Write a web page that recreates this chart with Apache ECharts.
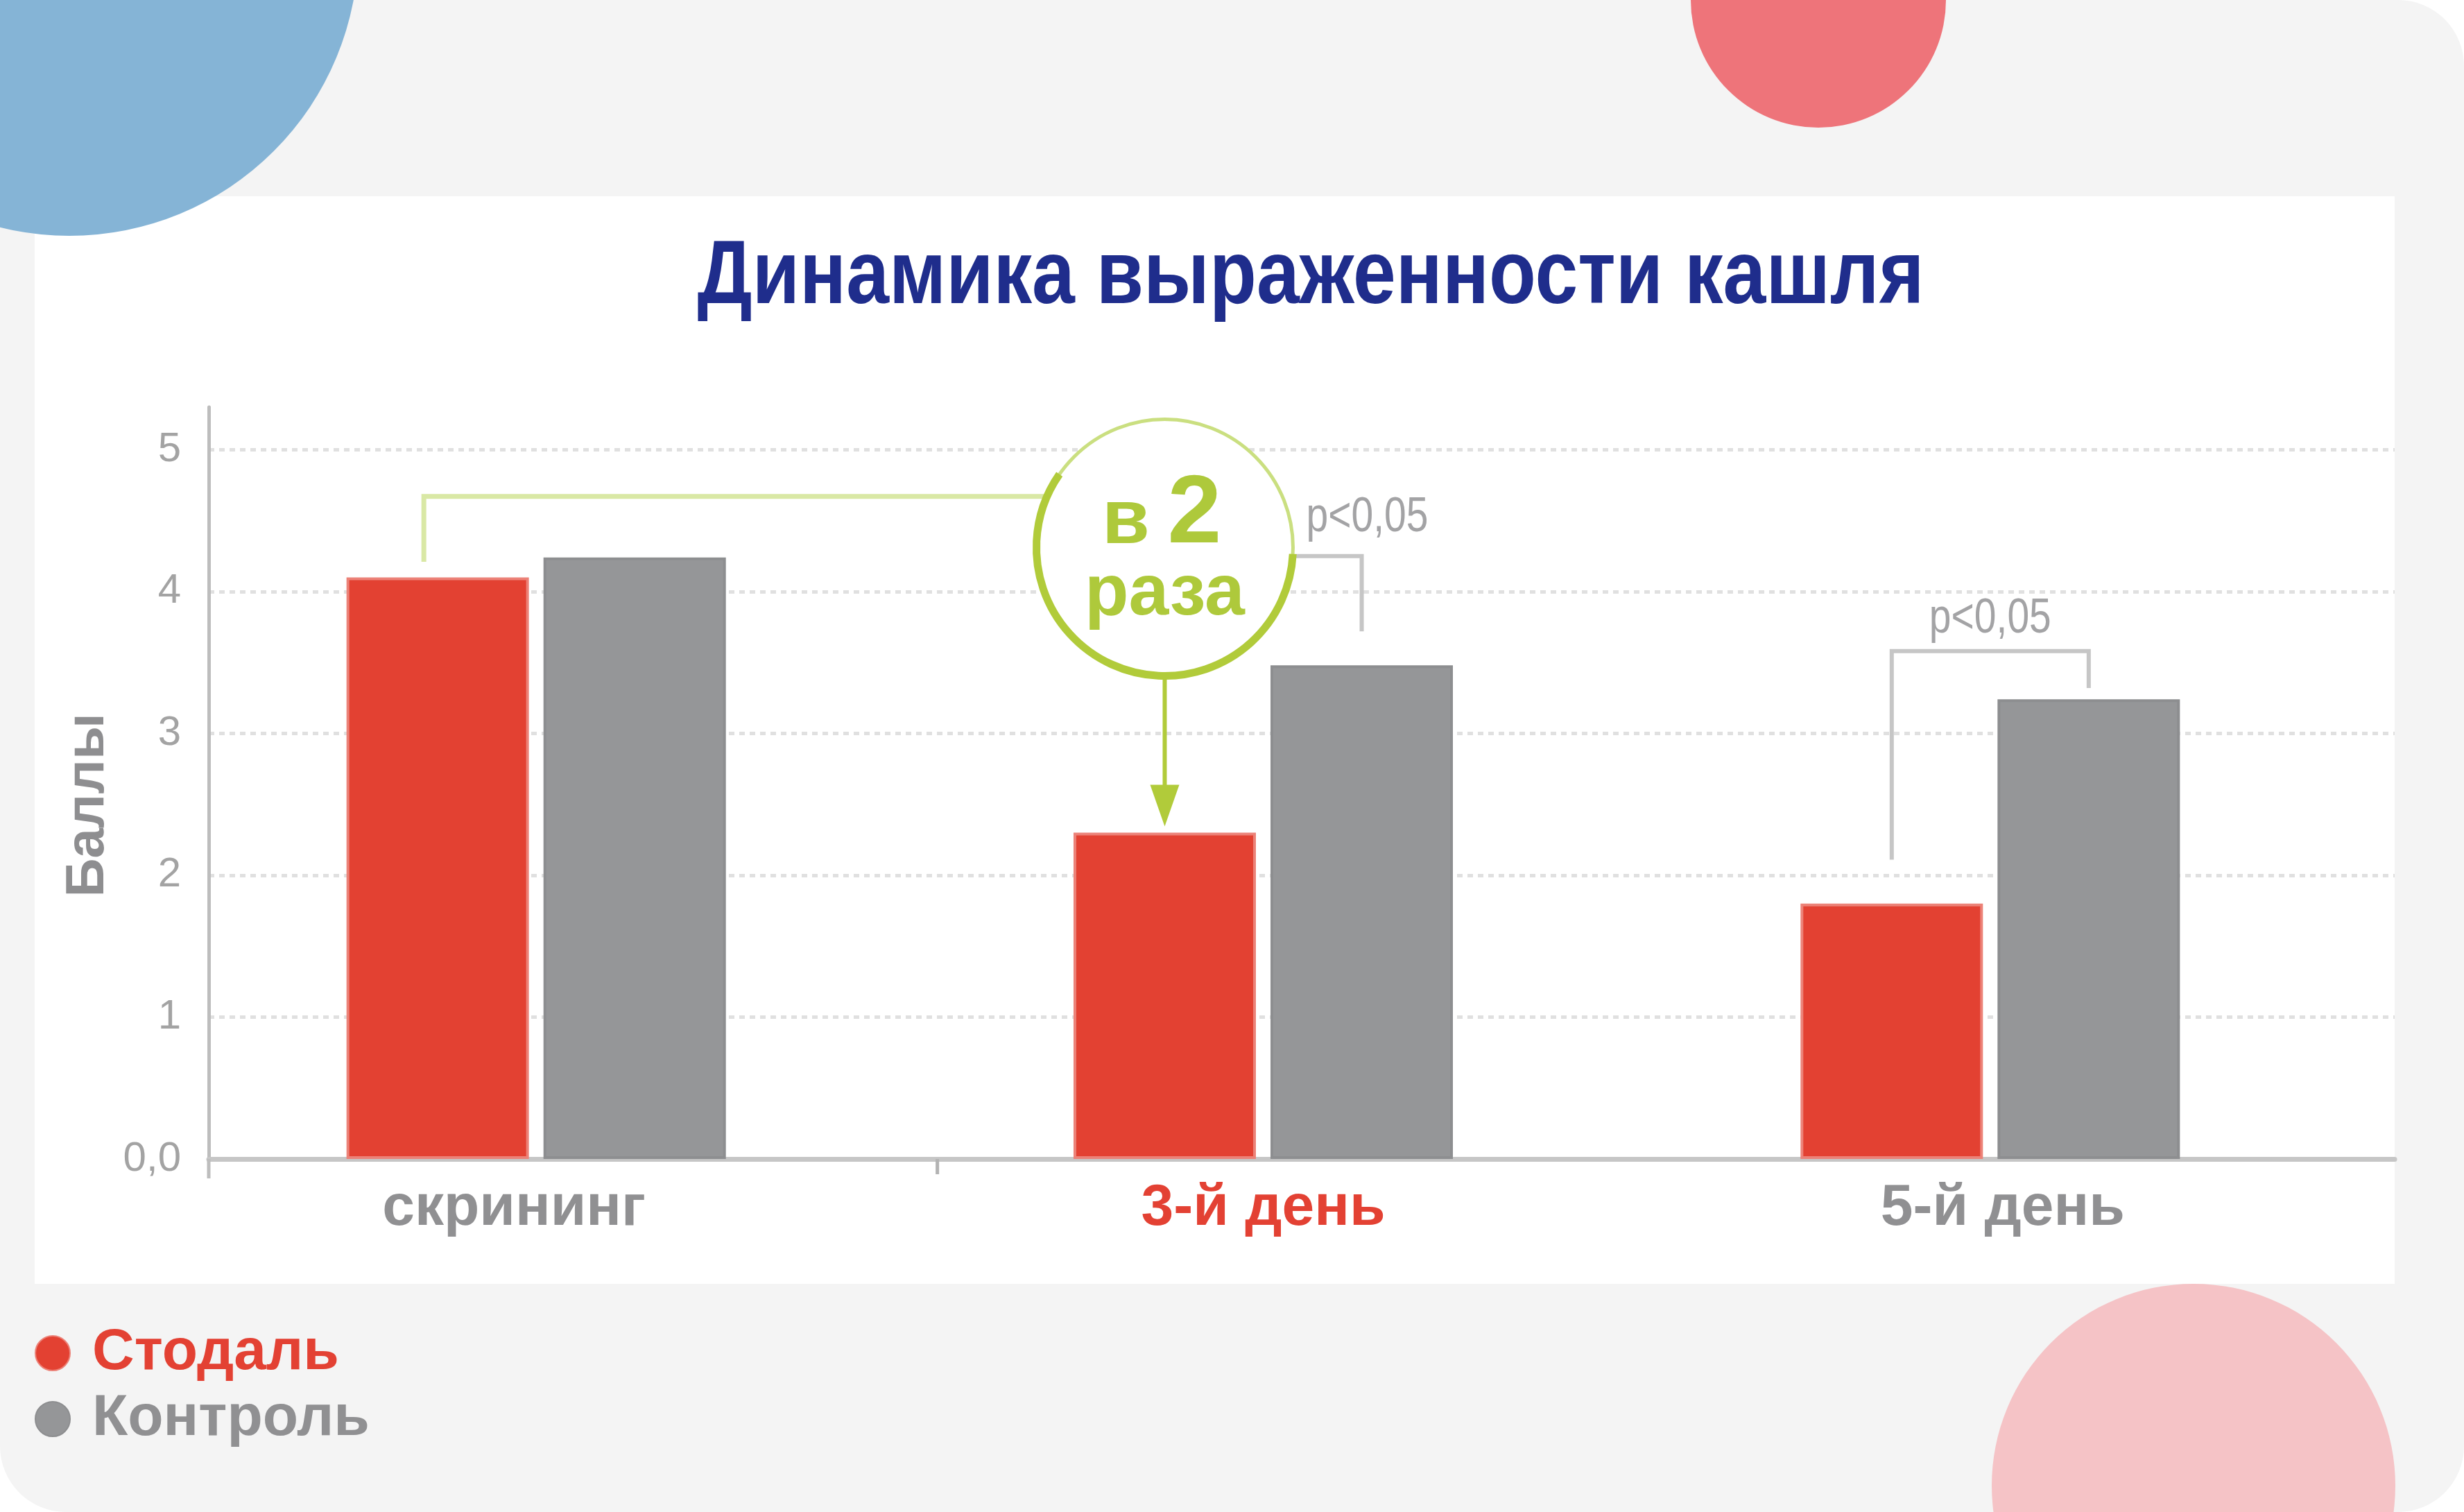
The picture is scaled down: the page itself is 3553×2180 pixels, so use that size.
<!DOCTYPE html>
<html>
<head>
<meta charset="utf-8">
<title>Динамика выраженности кашля</title>
<script src="https://cdn.jsdelivr.net/npm/echarts@6.0.0/dist/echarts.min.js"></script>
<style>
    html, body { margin: 0; padding: 0; background: #ffffff; }
    #main { width: 3553px; height: 2180px; }
</style>
</head>
<body>
<div id="main"></div>
<script>
(function(){
    // данные
    var categories = ['скрининг', '3-й день', '5-й день'];
    var labelColors = ['#909092', '#e34133', '#909092'];
    var stodal = [4.10, 2.30, 1.80];
    var control = [4.24, 3.48, 3.24];
    var yTicks = ['0,0', '1', '2', '3', '4', '5'];

    // уровни подписей (в баллах)
    var greenBracket = [4.21, 4.67];   // от столбика скрининга до кольца
    var ringLevel = 4.31;              // центр кольца «в 2 раза»
    var pBracket3 = [4.25, 3.72];      // p<0,05 у 3-го дня
    var pBracket5 = [2.11, 3.58, 3.32];// p<0,05 у 5-го дня

    var RED = '#e34132';
    var GRAY = '#959698';
    var GREEN = '#aec93b';
    var SANS = "'Liberation Sans', Arial, sans-serif";

    // подписи категорий в оригинале чуть смещены относительно пар столбиков
    var labelShift = [-32, 0, 18];

    // ширина текста, чтобы сжать заголовок и p<0,05 как узкий шрифт
    var measureCtx = document.createElement('canvas').getContext('2d');
    function textWidth(text, font){
        measureCtx.font = font;
        return measureCtx.measureText(text).width;
    }
    var titleText = 'Динамика выраженности кашля';
    var titleScale = 1769 / textWidth(titleText, 'bold 130px ' + SANS);
    var pScale = 176 / textWidth('p<0,05', '70px ' + SANS);

    var myChart = echarts.init(document.getElementById('main'));

    var option = {
        animation: false,
        // рамка с осями и сетка для столбиков (сдвинута влево, как в оригинале)
        grid: [
            { left: 301, top: 587, width: 3152, height: 1084 },
            { left: 249, top: 587, width: 3145, height: 1084 }
        ],
        legend: {
            orient: 'vertical',
            left: 50,
            top: 1909,
            padding: 0,
            icon: 'circle',
            itemWidth: 50,
            itemHeight: 50,
            itemGap: 11,
            selectedMode: false,
            textStyle: {
                fontFamily: SANS,
                fontWeight: 'bold',
                fontSize: 84,
                padding: [0, 0, 0, 27]
            },
            data: [
                { name: 'Стодаль', textStyle: { color: '#e34133' } },
                { name: 'Контроль', textStyle: { color: '#909092' } }
            ]
        },
        xAxis: [{
            type: 'category',
            gridIndex: 0,
            data: categories,
            boundaryGap: true,
            axisLine: { lineStyle: { color: '#c6c6c6', width: 7 } },
            axisTick: { show: false },
            axisLabel: { show: false },
            splitLine: { show: false }
        }, {
            type: 'category',
            gridIndex: 1,
            data: categories,
            axisLine: { show: false },
            axisTick: { show: false },
            axisLabel: {
                margin: 30,
                fontFamily: SANS,
                fontWeight: 'bold',
                fontSize: 84,
                formatter: function(value, index){
                    return '{c' + index + '|' + value + '}';
                },
                rich: {
                    c0: { color: labelColors[0], padding: [0, -2 * labelShift[0], 0, 0] },
                    c1: { color: labelColors[1] },
                    c2: { color: labelColors[2], padding: [0, 0, 0, 2 * labelShift[2]] }
                }
            }
        }],
        yAxis: [{
            type: 'value',
            gridIndex: 0,
            min: 0,
            max: 5.3,
            interval: 1,
            name: 'Баллы',
            nameLocation: 'middle',
            nameRotate: 90,
            nameGap: 128,
            nameTextStyle: {
                fontFamily: SANS,
                fontWeight: 'bold',
                fontSize: 78,
                color: '#8e8e90',
                padding: [0, 64, 0, 0]
            },
            axisLine: { show: true, lineStyle: { color: '#bdbdbd', width: 5 } },
            axisTick: { show: false },
            axisLabel: {
                margin: 40,
                fontFamily: SANS,
                fontSize: 60,
                color: '#a3a3a3',
                formatter: function(v){
                    return v % 1 === 0 ? yTicks[v] : '';
                }
            },
            splitLine: {
                show: true,
                showMaxLine: false,
                lineStyle: { color: '#e0e0e0', width: 5, type: [8, 7] }
            }
        }, {
            type: 'value',
            gridIndex: 1,
            min: 0,
            max: 5.3,
            show: false,
            splitLine: { show: false }
        }],
        series: [{
            name: 'Стодаль',
            type: 'bar',
            xAxisIndex: 1,
            yAxisIndex: 1,
            barWidth: 263,
            barGap: '8%',
            itemStyle: { color: RED, borderColor: '#ec8278', borderWidth: 4 },
            data: stodal
        }, {
            name: 'Контроль',
            type: 'bar',
            xAxisIndex: 1,
            yAxisIndex: 1,
            barWidth: 263,
            barGap: '8%',
            itemStyle: { color: GRAY, borderColor: '#8d8e90', borderWidth: 4 },
            data: control
        }]
    };

    myChart.setOption(option);

    // положение столбиков из раскладки самой библиотеки
    function barBox(seriesIndex, i){
        var l = myChart.getModel().getSeriesByIndex(seriesIndex).getData().getItemLayout(i);
        return { cx: l.x + l.width / 2, top: Math.min(l.y, l.y + l.height) };
    }
    function yPx(v){
        return myChart.convertToPixel({ yAxisIndex: 1 }, v);
    }

    var red0 = barBox(0, 0), red1 = barBox(0, 1), red2 = barBox(0, 2);
    var gray1 = barBox(1, 1), gray2 = barBox(1, 2);

    // граница между «скрининг» и «3-й день» на оси рамки, и начало оси
    var axisY = myChart.convertToPixel({ yAxisIndex: 0 }, 0);
    var tickX = (myChart.convertToPixel({ xAxisIndex: 0 }, categories[0]) +
                 myChart.convertToPixel({ xAxisIndex: 0 }, categories[1])) / 2;
    var originX = myChart.convertToPixel({ xAxisIndex: 0 }, categories[0]) - (tickX - myChart.convertToPixel({ xAxisIndex: 0 }, categories[0]));

    var cx = red1.cx, cy = yPx(ringLevel), r = 185;
    function ringX(y, side){
        var dy = y - cy;
        return cx + side * Math.sqrt(Math.max(r * r - dy * dy, 0));
    }

    var gy = yPx(greenBracket[1]);
    var p3y = yPx(pBracket3[0]);
    var p5y = yPx(pBracket5[1]);
    var tipY = red1.top - 9;

    var graphic = [
        // фон
        { type: 'rect', z: -10, silent: true, shape: { x: 0, y: 0, width: 3553, height: 2180, r: 95 }, style: { fill: '#f4f4f4' } },
        { type: 'rect', z: -9, silent: true, shape: { x: 50, y: 283, width: 3403, height: 1568 }, style: { fill: '#ffffff' } },
        { type: 'circle', z: -8, silent: true, shape: { cx: 100, cy: -77, r: 417 }, style: { fill: '#85b4d6' } },
        { type: 'circle', z: -8, silent: true, shape: { cx: 2622, cy: 0, r: 184 }, style: { fill: '#ee747a' } },
        { type: 'circle', z: -8, silent: true, shape: { cx: 3163, cy: 2142, r: 291 }, style: { fill: '#f5c3c6' } },

        // засечки оси X
        { type: 'line', z: 1, shape: { x1: tickX, y1: axisY, x2: tickX, y2: axisY + 22 }, style: { stroke: '#b3b3b3', lineWidth: 5 } },
        { type: 'line', z: 1, shape: { x1: originX, y1: axisY, x2: originX, y2: axisY + 28 }, style: { stroke: '#bdbdbd', lineWidth: 5 } },

        // заголовок
        { type: 'text', z: 10, x: 1890, y: 401, scaleX: titleScale, style: {
            text: titleText, x: 0, y: 0,
            textAlign: 'center', textVerticalAlign: 'middle',
            fontFamily: SANS, fontWeight: 'bold', fontSize: 130, fill: '#1f2d8c'
        } },

        // зелёная скобка от скрининга к кольцу
        { type: 'polyline', z: 5, shape: { points: [
            [red0.cx - 20, yPx(greenBracket[0])], [red0.cx - 20, gy], [ringX(gy, -1), gy]
        ] }, style: { stroke: '#d9e8a5', lineWidth: 7, fill: null } },

        // кольцо «в 2 раза»
        { type: 'circle', z: 6, shape: { cx: cx, cy: cy, r: r }, style: { stroke: '#cadf80', lineWidth: 5, fill: '#ffffff' } },
        { type: 'arc', z: 7, shape: { cx: cx, cy: cy, r: r, startAngle: 0.05, endAngle: 3.75, clockwise: true },
            style: { stroke: '#b1cb3a', lineWidth: 11, fill: null } },
        { type: 'text', z: 8, style: { text: 'в', x: cx - 56, y: cy - 37, textAlign: 'center', textVerticalAlign: 'middle',
            fontFamily: SANS, fontWeight: 'bold', fontSize: 112, fill: GREEN } },
        { type: 'text', z: 8, style: { text: '2', x: cx + 43, y: cy - 46, textAlign: 'center', textVerticalAlign: 'middle',
            fontFamily: SANS, fontWeight: 'bold', fontSize: 140, fill: GREEN } },
        { type: 'text', z: 8, style: { text: 'раза', x: cx, y: cy + 68, textAlign: 'center', textVerticalAlign: 'middle',
            fontFamily: SANS, fontWeight: 'bold', fontSize: 104, fill: GREEN } },

        // стрелка вниз к столбику 3-го дня
        { type: 'line', z: 6, shape: { x1: cx, y1: cy + r, x2: cx, y2: tipY - 50 }, style: { stroke: '#b1cb3a', lineWidth: 6 } },
        { type: 'polygon', z: 6, shape: { points: [[cx - 21, tipY - 60], [cx + 21, tipY - 60], [cx, tipY]] }, style: { fill: '#b1cb3a' } },

        // p<0,05 — 3-й день
        { type: 'polyline', z: 5, shape: { points: [
            [ringX(p3y, 1), p3y], [gray1.cx, p3y], [gray1.cx, yPx(pBracket3[1])]
        ] }, style: { stroke: '#c6c6c6', lineWidth: 6, fill: null } },
        { type: 'text', z: 8, x: gray1.cx + 8, y: p3y - 55, scaleX: pScale, style: { text: 'p<0,05', x: 0, y: 0,
            textAlign: 'center', textVerticalAlign: 'middle', fontFamily: SANS, fontSize: 70, fill: '#a3a3a5' } },

        // p<0,05 — 5-й день
        { type: 'polyline', z: 5, shape: { points: [
            [red2.cx, yPx(pBracket5[0])], [red2.cx, p5y], [gray2.cx, p5y], [gray2.cx, yPx(pBracket5[2])]
        ] }, style: { stroke: '#c6c6c6', lineWidth: 6, fill: null } },
        { type: 'text', z: 8, x: (red2.cx + gray2.cx) / 2, y: p5y - 46, scaleX: pScale, style: { text: 'p<0,05', x: 0, y: 0,
            textAlign: 'center', textVerticalAlign: 'middle', fontFamily: SANS, fontSize: 70, fill: '#a3a3a5' } }
    ];

    myChart.setOption({ graphic: graphic });
})();
</script>
</body>
</html>
